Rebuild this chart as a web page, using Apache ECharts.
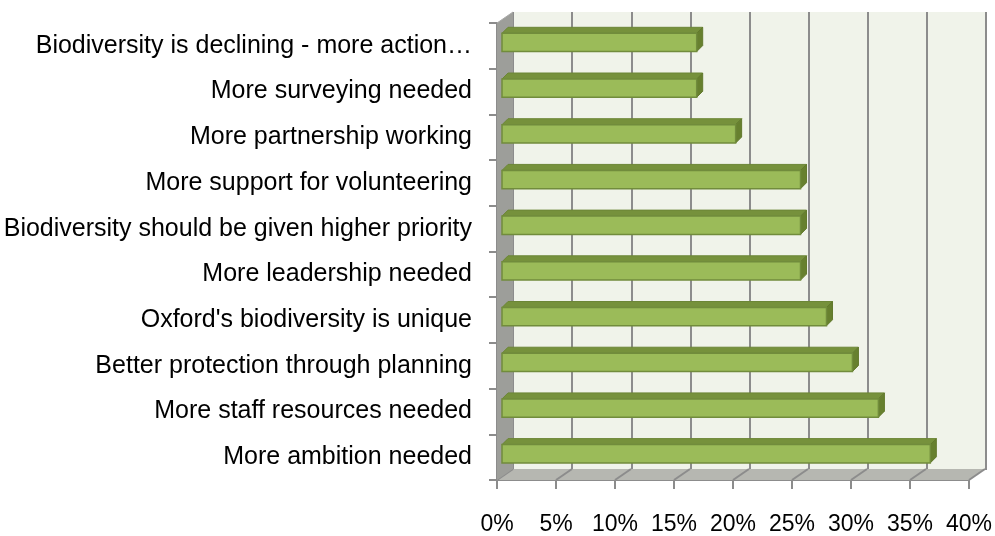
<!DOCTYPE html>
<html>
<head>
<meta charset="utf-8">
<script src="https://cdn.jsdelivr.net/npm/echarts@6/dist/echarts.min.js"></script>
<style>
html,body{margin:0;padding:0;background:#fff;}
#chart{width:995px;height:536px;}
</style>
</head>
<body>
<div id="chart"></div>
<script>
// Data (top to bottom)
const categories = [
  "Biodiversity is declining - more action…",
  "More surveying needed",
  "More partnership working",
  "More support for volunteering",
  "Biodiversity should be given higher priority",
  "More leadership needed",
  "Oxford's biodiversity is unique",
  "Better protection through planning",
  "More staff resources needed",
  "More ambition needed"
];
const values = [16.5, 16.5, 19.8, 25.3, 25.3, 25.3, 27.5, 29.7, 31.9, 36.3];
const xTicks = [0, 5, 10, 15, 20, 25, 30, 35, 40];

const FONT = "Liberation Sans";
const GRID_LINE = "#8c8c8c";
const DEPTH = [16, -11];

const chart = echarts.init(document.getElementById('chart'), null, {renderer: 'canvas'});

const option = {
  animation: false,
  backgroundColor: '#ffffff',
  grid: [
    {left: 497, right: 25, top: 23, bottom: 55, containLabel: false},
    {left: 513, right: 9, top: 12, bottom: 66, show: true, backgroundColor: '#f0f3ea', borderWidth: 0}
  ],
  xAxis: [
    {
      gridIndex: 0, type: 'value', min: xTicks[0], max: xTicks[xTicks.length - 1], interval: 5,
      axisLine: {show: true, lineStyle: {color: GRID_LINE, width: 2}},
      axisTick: {show: true, length: 9, lineStyle: {color: GRID_LINE, width: 2}},
      splitLine: {show: false},
      axisLabel: {formatter: '{value}%', fontFamily: FONT, fontSize: 23, color: '#000', margin: 33}
    },
    {
      gridIndex: 1, type: 'value', min: xTicks[0], max: xTicks[xTicks.length - 1], interval: 5,
      axisLine: {show: false}, axisTick: {show: false}, axisLabel: {show: false},
      splitLine: {show: true, lineStyle: {color: GRID_LINE, width: 2}}
    }
  ],
  yAxis: [
    {
      gridIndex: 0, type: 'category', data: categories, inverse: true,
      axisLine: {show: true, lineStyle: {color: GRID_LINE, width: 2}},
      axisTick: {show: true, length: 8, lineStyle: {color: GRID_LINE, width: 2}},
      axisLabel: {fontFamily: FONT, fontSize: 25, color: '#000', margin: 25}
    },
    {
      gridIndex: 1, type: 'category', data: categories, inverse: true,
      axisLine: {show: false}, axisTick: {show: false}, axisLabel: {show: false},
      splitLine: {show: false}
    }
  ],
  series: [
    {
      // floor and side wall of the 3D box
      type: 'custom', xAxisIndex: 0, yAxisIndex: 0, z: 1, silent: true,
      data: [[0, 0]],
      renderItem: function (params, api) {
        const cs = params.coordSys;
        const x0 = cs.x, x1 = cs.x + cs.width, yT = cs.y, yB = cs.y + cs.height;
        const dx = DEPTH[0], dy = DEPTH[1];
        const children = [];
        children.push({type: 'polygon', shape: {points: [[x0, yB], [x1, yB], [x1 + dx, yB + dy], [x0 + dx, yB + dy]]},
          style: {fill: '#b6b7b1'}});
        xTicks.forEach(function (t) {
          const px = api.coord([t, 0])[0];
          children.push({type: 'line', shape: {x1: px, y1: yB, x2: px + dx, y2: yB + dy},
            style: {stroke: GRID_LINE, lineWidth: 2}});
        });
        children.push({type: 'polygon', shape: {points: [[x0, yT], [x0 + dx, yT + dy], [x0 + dx, yB + dy], [x0, yB]]},
          style: {fill: '#9d9e9a'}});
        children.push({type: 'line', shape: {x1: x0, y1: yT, x2: x0 + dx, y2: yT + dy},
          style: {stroke: '#aaaaaa', lineWidth: 1}});
        return {type: 'group', children: children};
      }
    },
    {
      type: 'custom', xAxisIndex: 0, yAxisIndex: 0, z: 3,
      data: values.map(function (v, i) { return [v, i]; }),
      encode: {x: 0, y: 1},
      renderItem: function (params, api) {
        const v = api.value(0), c = api.value(1);
        const p0 = api.coord([0, c]);
        const p1 = api.coord([v, c]);
        const band = api.size([0, 1])[1];
        const h = band * 0.4;
        const ox = 5, oy = -3.4, dx = 6, dy = -6;
        const x = p0[0] + ox, y = p0[1] + oy - h / 2, w = p1[0] - p0[0];
        return {
          type: 'group',
          children: [
            {type: 'polygon', shape: {points: [[x, y], [x + dx, y + dy], [x + w + dx, y + dy], [x + w, y]]},
              style: {fill: '#76913c', stroke: '#6c8637', lineWidth: 1}},
            {type: 'polygon', shape: {points: [[x + w, y], [x + w + dx, y + dy], [x + w + dx, y + h + dy], [x + w, y + h]]},
              style: {fill: '#67802f', stroke: '#62792d', lineWidth: 1}},
            {type: 'rect', shape: {x: x, y: y, width: w, height: h},
              style: {fill: '#9bbb59', stroke: '#718c3c', lineWidth: 1.5}}
          ]
        };
      }
    }
  ]
};
chart.setOption(option);
</script>
</body>
</html>
